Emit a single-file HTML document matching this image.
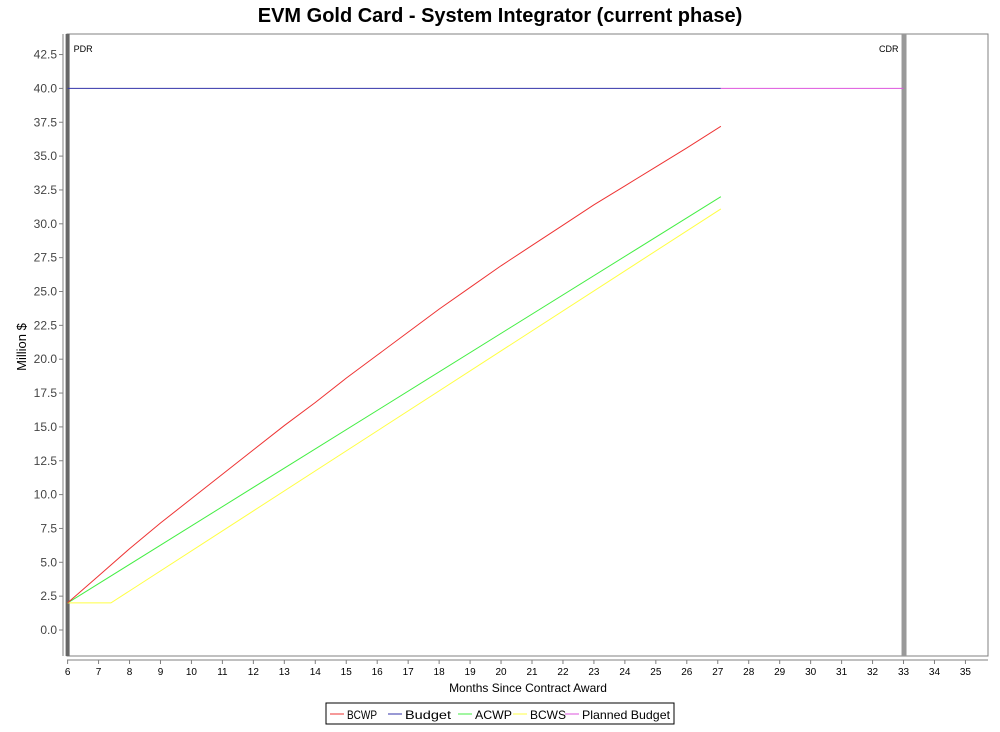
<!DOCTYPE html>
<html><head><meta charset="utf-8"><style>
body{margin:0;background:#fff;}
svg text{font-family:"Liberation Sans",sans-serif;}
</style></head><body>
<svg id="chart" width="1000" height="727" xmlns="http://www.w3.org/2000/svg">
<text x="500" y="22" text-anchor="middle" font-size="20" font-weight="bold" fill="#000">EVM Gold Card - System Integrator (current phase)</text>
<rect x="67" y="34" width="921" height="622" fill="#fff" stroke="#808080" stroke-width="1"/>
<g id="yaxis"></g>
<g id="xaxis"></g>
<g id="series"></g>
<text transform="translate(26,347) rotate(-90)" text-anchor="middle" font-size="13" fill="#000">Million $</text>
<text x="528" y="692" text-anchor="middle" font-size="12" fill="#000">Months Since Contract Award</text>
<g>
<rect x="326" y="703" width="348" height="21" fill="#fff" stroke="#000"/>
<g id="legend"></g>
</g>
</svg>
<script>
const NS="http://www.w3.org/2000/svg";
const bcwpX=[6,7,8,9,10,11,12,13,14,15,16,17,18,19,20,21,22,23,24,25,26,27.1];
const bcwpY=[2.0,4.0,6.0,7.9,9.7,11.5,13.3,15.1,16.8,18.6,20.3,22.0,23.7,25.3,26.9,28.4,29.9,31.4,32.8,34.2,35.6,37.2];
const acwpX=[6,27.1];
const acwpY=[2.0,32.0];
const bcwsX=[6,7.4,27.1];
const bcwsY=[2.0,2.0,31.1];
const budgetX=[6,27.1];
const budgetY=[40,40];
const plannedX=[27.1,33];
const plannedY=[40,40];
const xTicks=[6,7,8,9,10,11,12,13,14,15,16,17,18,19,20,21,22,23,24,25,26,27,28,29,30,31,32,33,34,35];
const yTicks=[0,2.5,5,7.5,10,12.5,15,17.5,20,22.5,25,27.5,30,32.5,35,37.5,40,42.5];
const milestones=[["PDR",6],["CDR",33]];
const X=v=>67.6+(v-6)*30.96;
const Y=v=>630-v*13.54;
function el(t,a,p){const e=document.createElementNS(NS,t);for(const k in a)e.setAttribute(k,a[k]);p.appendChild(e);return e;}
const ya=document.getElementById('yaxis'),xa=document.getElementById('xaxis');
el('line',{x1:63,y1:34,x2:63,y2:656,stroke:'#808080'},ya);
yTicks.forEach(v=>{
 el('line',{x1:59,y1:Y(v),x2:63,y2:Y(v),stroke:'#808080'},ya);
 const tx=el('text',{x:57,y:Y(v)+4,'text-anchor':'end','font-size':12,fill:'#444'},ya);
 tx.textContent=v.toFixed(1);
 
 
});
el('line',{x1:67,y1:660,x2:988,y2:660,stroke:'#808080'},xa);
xTicks.forEach(v=>{
 el('line',{x1:X(v),y1:660,x2:X(v),y2:664,stroke:'#808080'},xa);
 const tx=el('text',{x:X(v),y:675,'text-anchor':'middle','font-size':10,fill:'#000'},xa);
 tx.textContent=v;
 
 
});
const g=document.getElementById('series');
milestones.forEach((m,i)=>{
 const r=el('rect',{x:X(m[1])-2,y:34,width:i==0?4:5,height:622,fill:i==0?'#666':'#999'},g);
 
 
 const tx=el('text',{x:i==0?X(m[1])+6:X(m[1])-5,y:52,'text-anchor':i==0?'start':'end','font-size':9,fill:'#000'},g);
 tx.textContent=m[0];
 
 
});
function line(xs,ys,c,name){
 const p=el('polyline',{points:xs.map((x,i)=>X(x)+','+Y(ys[i])).join(' '),fill:'none',stroke:c,'stroke-width':1},g);
 
 
}
line(budgetX,budgetY,'#3333aa','budget-line');
line(plannedX,plannedY,'#dd55dd','planned-budget-line');
line(bcwsX,bcwsY,'#ffff44','bcws-line');
line(acwpX,acwpY,'#44ee44','acwp-line');
line(bcwpX,bcwpY,'#ee3333','bcwp-line');
const leg=[["BCWP","#ee3333",330,30],["Budget","#3333aa",388,46],["ACWP","#44ee44",458,37],["BCWS","#ffff44",513,36],["Planned Budget","#dd55dd",565,88]];
const lg=document.getElementById('legend');
leg.forEach(l=>{
 el('line',{x1:l[2],y1:714,x2:l[2]+14,y2:714,stroke:l[1]},lg);
 const tx=el('text',{x:l[2]+17,y:719,'font-size':12,fill:'#000',textLength:l[3],lengthAdjust:'spacingAndGlyphs'},lg);
 tx.textContent=l[0];
 
 
});
</script>
</body></html>
